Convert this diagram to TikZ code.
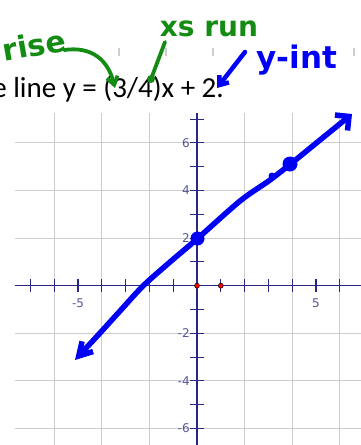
\documentclass[tikz,border=0pt]{standalone}
\usepackage{fontspec}
\usetikzlibrary{arrows.meta}
\newfontfamily\eqfont{Carlito}
\newfontfamily\labelfont{DejaVu Sans}
\newfontfamily\handfont{DejaVu Sans}
\definecolor{axisblue}{RGB}{40,40,130}
\definecolor{labelblue}{RGB}{85,85,155}
\definecolor{gridgray}{RGB}{205,205,205}
\definecolor{inkgreen}{RGB}{20,140,20}
\definecolor{inkblue}{RGB}{0,0,245}
\tikzset{
  gridline/.style={draw=gridgray, line width=1.1pt},
  axisline/.style={draw=axisblue, line width=1.1pt},
  ticklabel/.style={text=labelblue, font=\labelfont\fontsize{12}{12}\selectfont, inner sep=0pt},
  reddot/.style={circle, fill=red, draw=black, line width=0.5pt, inner sep=0pt, minimum size=5pt},
  blueink/.style={draw=inkblue, line width=5.5pt, line cap=round, line join=round},
  bluedot/.style={circle, fill=inkblue, inner sep=0pt},
  greenink/.style={draw=inkgreen, line width=3.8pt, line cap=round, line join=round},
  handnote/.style={font=\handfont\bfseries\fontsize{30}{30}\selectfont, inner sep=0pt},
  eqtext/.style={font=\eqfont\fontsize{29}{29}\selectfont, inner sep=0pt}
}
\begin{document}
\begin{tikzpicture}[x=1pt, y=-1pt]
    \useasboundingbox (0,0) rectangle (361,445);
    \clip (0,0) rectangle (361,445);

    % Grid and axes
    \begin{scope}[shift={(197,285.7)}, x=23.8pt, y=23.8pt]
        \foreach \g in {-6,-4,-2,2,4,6} {
            \draw[gridline] (\g,-6.8) -- (\g,7.26);
            \draw[gridline] (-7.65,\g) -- (7,\g);
        }
        \draw[axisline] (-7.65,0) -- (7,0);
        \draw[axisline] (0,-6.8) -- (0,7.25);
        \foreach \t in {-7,...,6}
            \draw[axisline] (\t,-0.27) -- (\t,0.27);
        \foreach \t in {-6,...,-1,1,2,...,7}
            \draw[axisline] (-0.28,\t) -- (0.28,\t);

        % Labels
        \foreach \v in {6,4,2,-2,-4,-6}
            \node[ticklabel, anchor=east] (ylab\v) at (-0.3,\v) {\v};
        \node[ticklabel] (xlabneg) at (-5,-0.73) {-5};
        \node[ticklabel] (xlabpos) at (5,-0.73) {5};

        % Points
        \node[reddot] (origin) at (0,0) {};
        \node[reddot] (unit) at (1,0) {};
    \end{scope}

    % Faint marks above the text
    \foreach \m in {119,166,213,354}
        \draw[gridline] (\m,48) -- (\m,56);

    % Drawn line
    \coordinate (lowTip) at (75,360);
    \coordinate (highTip) at (352,114);
    \draw[blueink, {Straight Barb[length=13pt, width=15pt]}-{Straight Barb[length=10pt, width=20pt]}]
        plot[smooth, tension=0.5] coordinates {(lowTip) (100,333) (120,311) (143,286) (170,262)
            (197,239) (240,201) (270,180) (293,162) (320,140) (highTip)};
    \node[bluedot, minimum size=14pt] (yint) at (197.5,238.5) {};
    \node[bluedot, minimum size=15pt] (point) at (290,164) {};
    \node[bluedot, minimum size=7pt] (speck) at (272,176) {};

    % Equation
    \node[eqtext, anchor=base east] (equation) at (224,97) {e line y = (3/4)x + 2.};

    % Notes
    \node[handnote, text=inkgreen, rotate=10] (rise) at (34,45) {rise};
    \node[handnote, text=inkgreen, font=\handfont\bfseries\fontsize{28}{28}\selectfont] (xsrun) at (209,29) {xs run};
    \node[handnote, text=inkblue, font=\handfont\bfseries\fontsize{31}{31}\selectfont] (yintnote) at (297,60) {y-int};

    \coordinate (riseFrom) at (64,50);
    \coordinate (riseTo) at (115,88);
    \coordinate (runFrom) at (165,42);
    \coordinate (runTo) at (151,79);
    \coordinate (yintFrom) at (245,52);
    \coordinate (yintTo) at (217,88);
    \draw[greenink, -{Straight Barb[length=8pt, width=11pt]}]
        (riseFrom) .. controls (92,46) and (108,60) .. (riseTo);
    \draw[greenink] (runFrom) -- (runTo);
    \node[circle, fill=inkgreen, inner sep=0pt, minimum size=8pt] (runDot) at (runTo) {};
    \draw[blueink, line width=4.5pt, -{Straight Barb[length=8pt, width=12pt]}] (yintFrom) -- (yintTo);
\end{tikzpicture}
\end{document}
